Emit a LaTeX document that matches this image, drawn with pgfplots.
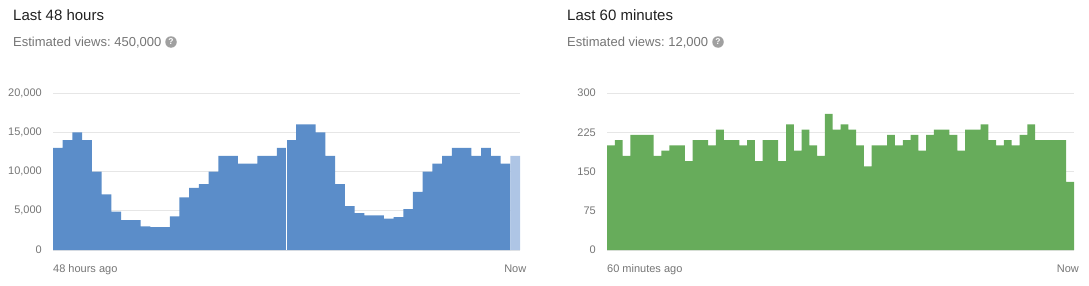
\documentclass[border=0pt]{standalone}
\usepackage{fontspec}
\setmainfont{Liberation Sans}
\usepackage{pgfplots}
\usepackage{pgfplotstable}
\pgfplotsset{compat=1.18}
\frenchspacing

\definecolor{barblue}{HTML}{5B8DC9}
\definecolor{barbluelight}{HTML}{AEC5E5}
\definecolor{bargreen}{HTML}{67AC5B}
\definecolor{gridgray}{HTML}{E6E6E6}
\definecolor{labelgray}{HTML}{757575}
\definecolor{titlegray}{HTML}{212121}
\definecolor{icongray}{HTML}{A0A0A0}

% Hourly views over the last 48 hours (hour index, views); last row closes the step
\pgfplotstableread{
x y
0 13000
1 14000
2 15000
3 14000
4 10000
5 7100
6 4900
7 3800
8 3800
9 3000
10 2900
11 2900
12 4300
13 6700
14 7900
15 8400
16 10000
17 12000
18 12000
19 11000
20 11000
21 12000
22 12000
23 13000
24 14000
25 16000
26 16000
27 15000
28 12000
29 8400
30 5600
31 4700
32 4400
33 4400
34 4000
35 4200
36 5200
37 7400
38 10000
39 11000
40 12000
41 13000
42 13000
43 12000
44 13000
45 12000
46 11000
47 11000
}\hourly

% Current (incomplete) hour
\pgfplotstableread{
x y
47 12000
48 12000
}\currenthour

% Per-minute views over the last 60 minutes; last row closes the step
\pgfplotstableread{
x y
0 200
1 210
2 180
3 220
4 220
5 220
6 180
7 190
8 200
9 200
10 170
11 210
12 210
13 200
14 230
15 210
16 210
17 200
18 210
19 170
20 210
21 210
22 170
23 240
24 190
25 230
26 200
27 180
28 260
29 230
30 240
31 230
32 200
33 160
34 200
35 200
36 220
37 200
38 210
39 220
40 190
41 220
42 230
43 230
44 220
45 190
46 230
47 230
48 240
49 210
50 200
51 210
52 200
53 220
54 240
55 210
56 210
57 210
58 210
59 130
60 130
}\minutely

\pgfplotsset{
  views/.style={
    scale only axis,
    width=467pt, height=157pt,
    axis line style={draw=none},
    major tick length=0pt,
    xtick=\empty,
    ymajorgrids,
    grid style={gridgray, line width=0.8pt},
    ymin=0,
    scaled y ticks=false,
    yticklabel style={font=\fontsize{11}{13}\selectfont, text=labelgray,
      inner sep=0pt, xshift=-11pt,
      /pgf/number format/.cd, fixed, 1000 sep={,}, assume math mode=true},
  },
}

\begin{document}
\begin{tikzpicture}[x=1pt, y=1pt]
\useasboundingbox (0,0) rectangle (1089,285);

% ---- Last 48 hours ----
\node[anchor=base west, inner sep=0pt, text=titlegray,
  font=\fontsize{15}{18}\selectfont] at (13,264.5) {Last 48 hours};
\node[anchor=base west, inner sep=0pt, text=labelgray,
  font=\fontsize{13}{16}\selectfont] at (13,238.5) {Estimated views: 450,000};
\node[circle, fill=icongray, inner sep=0pt, minimum size=11.5pt, text=white,
  font=\fontsize{8.5}{8.5}\selectfont\bfseries] at (171,243) {?};

\begin{axis}[views, at={(53pt,35pt)}, anchor=south west,
    xmin=0, xmax=48, ymax=20000, ytick={0,5000,10000,15000,20000}]
  \addplot[const plot mark left, draw=none, fill=barblue]
    table[x=x, y=y] {\hourly} \closedcycle;
  \addplot[const plot mark left, draw=none, fill=barbluelight]
    table[x=x, y=y] {\currenthour} \closedcycle;
  % day boundary
  \addplot[white, line width=1.2pt] coordinates {(24,0) (24,14000)};
\end{axis}
\node[anchor=base west, inner sep=0pt, text=labelgray,
  font=\fontsize{11}{13}\selectfont] at (53,13) {48 hours ago};
\node[anchor=base east, inner sep=0pt, text=labelgray,
  font=\fontsize{11}{13}\selectfont] at (526.5,13) {Now};

% ---- Last 60 minutes ----
\node[anchor=base west, inner sep=0pt, text=titlegray,
  font=\fontsize{15}{18}\selectfont] at (567,264.5) {Last 60 minutes};
\node[anchor=base west, inner sep=0pt, text=labelgray,
  font=\fontsize{13}{16}\selectfont] at (567,238.5) {Estimated views: 12,000};
\node[circle, fill=icongray, inner sep=0pt, minimum size=11.5pt, text=white,
  font=\fontsize{8.5}{8.5}\selectfont\bfseries] at (718,243) {?};

\begin{axis}[views, at={(607pt,35pt)}, anchor=south west,
    xmin=0, xmax=60, ymax=300, ytick={0,75,150,225,300}]
  \addplot[const plot mark left, draw=none, fill=bargreen]
    table[x=x, y=y] {\minutely} \closedcycle;
\end{axis}
\node[anchor=base west, inner sep=0pt, text=labelgray,
  font=\fontsize{11}{13}\selectfont] at (607,13) {60 minutes ago};
\node[anchor=base east, inner sep=0pt, text=labelgray,
  font=\fontsize{11}{13}\selectfont] at (1079,13) {Now};
\end{tikzpicture}
\end{document}
